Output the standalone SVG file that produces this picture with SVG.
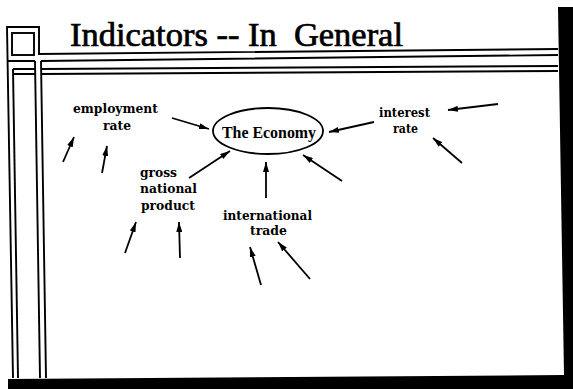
<svg xmlns="http://www.w3.org/2000/svg" width="573" height="389" viewBox="0 0 573 389">
<style>
.frame{fill:none;stroke:#000;stroke-width:1.9}
.lbl{font-family:"DejaVu Serif","Liberation Serif",serif;font-weight:bold;font-size:12px;fill:#000}
.econ{font-family:"Liberation Serif","Times New Roman",serif;font-weight:bold;font-size:16px;fill:#000}
.title{font-family:"Liberation Serif","Times New Roman",serif;font-size:33px;fill:#000;stroke:#000;stroke-width:0.7}
.arr{stroke:#000;stroke-width:1.8;fill:none;marker-end:url(#ah)}
</style>
<defs>
<marker id="ah" viewBox="0 0 10 6" refX="10" refY="3" markerWidth="10" markerHeight="6" orient="auto" markerUnits="userSpaceOnUse">
<path d="M0,0 L10,3 L0,6 z" fill="#000"/>
</marker>
</defs>
<rect width="573" height="389" fill="#fff"/>
<g id="frame">
<path class="frame" d="M13,378 L7,27 L39,27 L39,54 L558,49"/>
<rect class="frame" x="12" y="33" width="22" height="22"/>
<path class="frame" d="M7,61 L35,61 M41,61 L558,55"/>
<path class="frame" d="M13,69 L35,69 M41,69 L558,66"/>
<path class="frame" d="M13,74 L35,74 M41,74 L558,71"/>
<path class="frame" d="M13,69 L18,378"/>
<path class="frame" d="M35,61 L40,378"/>
<path class="frame" d="M41,61 L46,378"/>
<polygon points="558,7 573,7 573,389 8,389 8,379 564,375" fill="#000"/>
</g>
<g id="title">
<text class="title" x="70" y="46" textLength="333" lengthAdjust="spacingAndGlyphs" xml:space="preserve">Indicators -- In  General</text>
</g>
<g id="economy">
<ellipse cx="268" cy="131" rx="55" ry="23" fill="none" stroke="#000" stroke-width="1.8"/>
<text class="econ" x="269" y="138" text-anchor="middle" textLength="94" lengthAdjust="spacingAndGlyphs">The Economy</text>
</g>
<g id="employment">
<text class="lbl" x="115.5" y="113" text-anchor="middle" textLength="85" lengthAdjust="spacingAndGlyphs">employment</text>
<text class="lbl" x="117" y="130" text-anchor="middle" textLength="28" lengthAdjust="spacingAndGlyphs">rate</text>
</g>
<g id="gnp">
<text class="lbl" x="140" y="177" textLength="37" lengthAdjust="spacingAndGlyphs">gross</text>
<text class="lbl" x="140" y="193" textLength="57" lengthAdjust="spacingAndGlyphs">national</text>
<text class="lbl" x="141" y="210" textLength="54" lengthAdjust="spacingAndGlyphs">product</text>
</g>
<g id="trade">
<text class="lbl" x="267.5" y="220" text-anchor="middle" textLength="89" lengthAdjust="spacingAndGlyphs">international</text>
<text class="lbl" x="268.5" y="235" text-anchor="middle" textLength="37" lengthAdjust="spacingAndGlyphs">trade</text>
</g>
<g id="interest">
<text class="lbl" x="404.5" y="117" text-anchor="middle" textLength="51" lengthAdjust="spacingAndGlyphs">interest</text>
<text class="lbl" x="405.5" y="133" text-anchor="middle" textLength="25" lengthAdjust="spacingAndGlyphs">rate</text>
</g>
<g id="connectors">
<line class="arr" x1="172" y1="118" x2="209" y2="129"/>
<line class="arr" x1="63" y1="162" x2="74" y2="137"/>
<line class="arr" x1="102" y1="173" x2="107" y2="146"/>
<line class="arr" x1="189" y1="178" x2="230" y2="151"/>
<line class="arr" x1="266" y1="198" x2="266" y2="162"/>
<line class="arr" x1="125" y1="253" x2="136" y2="222"/>
<line class="arr" x1="180" y1="258" x2="179" y2="222"/>
<line class="arr" x1="261" y1="285" x2="250" y2="247"/>
<line class="arr" x1="310" y1="279" x2="278" y2="242"/>
<line class="arr" x1="374" y1="122" x2="329" y2="132"/>
<line class="arr" x1="342" y1="181" x2="303" y2="155"/>
<line class="arr" x1="498" y1="104" x2="448" y2="110"/>
<line class="arr" x1="462" y1="163" x2="433" y2="138"/>
</g>
</svg>
